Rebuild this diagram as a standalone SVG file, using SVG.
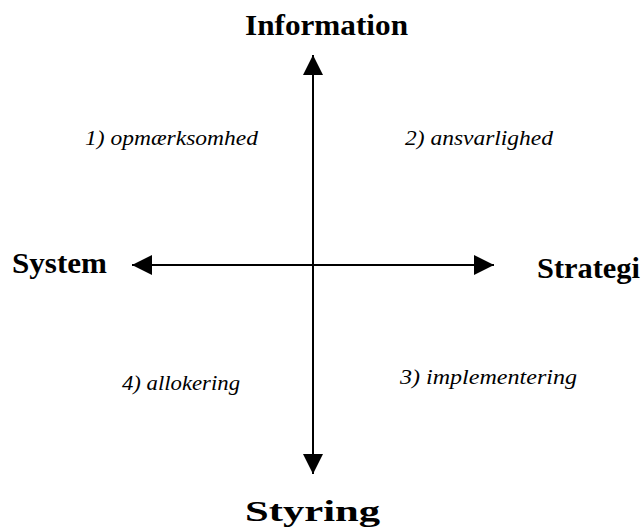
<svg xmlns="http://www.w3.org/2000/svg" width="641" height="531" viewBox="0 0 641 531">
  <style>
    .axis-label { font-family: "Liberation Serif", "DejaVu Serif", serif; font-weight: bold; font-size: 29px; fill: #000; }
    .quad-label { font-family: "Liberation Serif", "DejaVu Serif", serif; font-style: italic; font-size: 21px; fill: #000; }
    .axis { stroke: #000; stroke-width: 2; fill: none; }
  </style>
  <defs>
    <marker id="head" viewBox="0 0 20 20" refX="20" refY="10" markerWidth="20" markerHeight="20" markerUnits="userSpaceOnUse" orient="auto-start-reverse">
      <path d="M0,0 L20,10 L0,20 Z" fill="#000"/>
    </marker>
  </defs>
  <rect width="641" height="531" fill="#fff"/>
  <g id="connectors">
    <line class="axis" x1="313" y1="55" x2="313" y2="474" marker-start="url(#head)" marker-end="url(#head)"/>
    <line class="axis" x1="132" y1="265" x2="494" y2="265" marker-start="url(#head)" marker-end="url(#head)"/>
  </g>
  <g id="information"><text class="axis-label" x="245" y="35" textLength="163" lengthAdjust="spacingAndGlyphs">Information</text></g>
  <g id="system"><text class="axis-label" x="12" y="273" textLength="95" lengthAdjust="spacingAndGlyphs">System</text></g>
  <g id="strategi"><text class="axis-label" x="537" y="278" textLength="103" lengthAdjust="spacingAndGlyphs">Strategi</text></g>
  <g id="styring"><text class="axis-label" x="245" y="521" textLength="135" lengthAdjust="spacingAndGlyphs">Styring</text></g>
  <g id="q1"><text class="quad-label" x="85" y="145" textLength="173" lengthAdjust="spacingAndGlyphs">1) opmærksomhed</text></g>
  <g id="q2"><text class="quad-label" x="405" y="145" textLength="148" lengthAdjust="spacingAndGlyphs">2) ansvarlighed</text></g>
  <g id="q3"><text class="quad-label" x="400" y="384" textLength="177" lengthAdjust="spacingAndGlyphs">3) implementering</text></g>
  <g id="q4"><text class="quad-label" x="122" y="390" textLength="118" lengthAdjust="spacingAndGlyphs">4) allokering</text></g>
</svg>
